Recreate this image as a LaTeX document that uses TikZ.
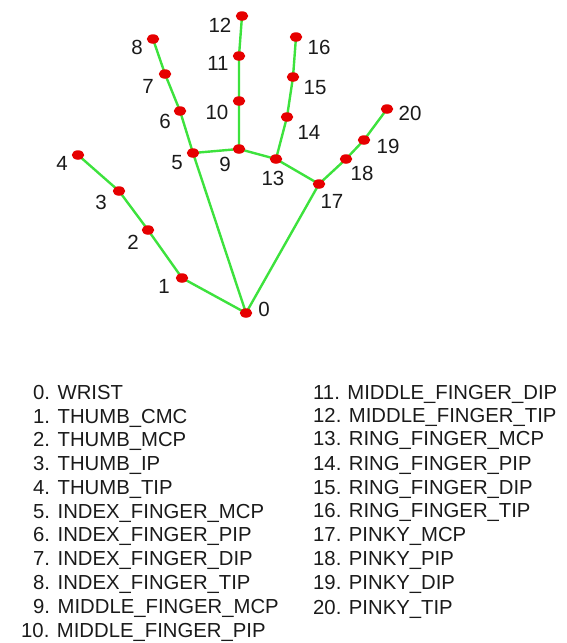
\documentclass[tikz,border=0pt]{standalone}
\usepackage{fontspec}
\setmainfont{Liberation Sans}
\usetikzlibrary{shapes.geometric}
\definecolor{dotred}{HTML}{E60000}
\definecolor{bonegreen}{HTML}{3DE23D}
\definecolor{txt}{HTML}{1A1A1A}
\begin{document}
\begin{tikzpicture}[x=1pt,y=-1pt,
  joint/.style={ellipse,fill=dotred,minimum width=12.5pt,minimum height=9.5pt,inner sep=0pt},
  bone/.style={draw=bonegreen,line width=2.4pt},
  num/.style={text=txt,font=\fontsize{20.5}{22}\selectfont,inner sep=0pt},
  item/.style={text=txt,font=\fontsize{20.3}{22}\selectfont,inner sep=0pt,anchor=base west}]
\useasboundingbox (0,0) rectangle (567,643);
% joints
\coordinate (p0) at (246,313);
\coordinate (p1) at (182,278);
\coordinate (p2) at (148,230);
\coordinate (p3) at (119,191);
\coordinate (p4) at (78,155);
\coordinate (p5) at (193,153);
\coordinate (p6) at (180,111);
\coordinate (p7) at (165,74);
\coordinate (p8) at (153,39);
\coordinate (p9) at (239,149);
\coordinate (p10) at (239,101);
\coordinate (p11) at (239,56);
\coordinate (p12) at (242,16);
\coordinate (p13) at (276,159);
\coordinate (p14) at (287,117);
\coordinate (p15) at (293,77);
\coordinate (p16) at (296,37);
\coordinate (p17) at (319,184);
\coordinate (p18) at (346,159);
\coordinate (p19) at (364,140);
\coordinate (p20) at (387,109);
% bones
\draw[bone] (p0) -- (p1) -- (p2) -- (p3) -- (p4);
\draw[bone] (p0) -- (p5) -- (p6) -- (p7) -- (p8);
\draw[bone] (p5) -- (p9) -- (p10) -- (p11) -- (p12);
\draw[bone] (p9) -- (p13) -- (p14) -- (p15) -- (p16);
\draw[bone] (p13) -- (p17) -- (p18) -- (p19) -- (p20);
\draw[bone] (p0) -- (p17);
% dots
\foreach \i in {0,...,20} \node[joint] (j\i) at (p\i) {};
% labels
\node[num] (l0) at (264,309) {0};
\node[num] (l1) at (164,286) {1};
\node[num] (l2) at (133,242) {2};
\node[num] (l3) at (101,202) {3};
\node[num] (l4) at (62,163) {4};
\node[num] (l5) at (177,163) {5};
\node[num] (l6) at (165,121) {6};
\node[num] (l7) at (148,86) {7};
\node[num] (l8) at (137,47) {8};
\node[num] (l9) at (225,164) {9};
\node[num] (l10) at (217,112) {10};
\node[num] (l11) at (218,63) {11};
\node[num] (l12) at (220,25) {12};
\node[num] (l13) at (273,178) {13};
\node[num] (l14) at (309,132) {14};
\node[num] (l15) at (315,88) {15};
\node[num] (l16) at (319,47) {16};
\node[num] (l17) at (332,201) {17};
\node[num] (l18) at (362,173) {18};
\node[num] (l19) at (388,146) {19};
\node[num] (l20) at (410,113) {20};
% list left
\node[item] (t0) at (33,399) {0. WRIST};
\node[item] (t1) at (33,423) {1. THUMB\_CMC};
\node[item] (t2) at (33,446) {2. THUMB\_MCP};
\node[item] (t3) at (33,470) {3. THUMB\_IP};
\node[item] (t4) at (33,494) {4. THUMB\_TIP};
\node[item] (t5) at (33,518) {5. INDEX\_FINGER\_MCP};
\node[item] (t6) at (33,541) {6. INDEX\_FINGER\_PIP};
\node[item] (t7) at (33,565) {7. INDEX\_FINGER\_DIP};
\node[item] (t8) at (33,589) {8. INDEX\_FINGER\_TIP};
\node[item] (t9) at (33,613) {9. MIDDLE\_FINGER\_MCP};
\node[item] (t10) at (21,637) {10. MIDDLE\_FINGER\_PIP};
% list right
\node[item] (t11) at (313,399) {11. MIDDLE\_FINGER\_DIP};
\node[item] (t12) at (313,422) {12. MIDDLE\_FINGER\_TIP};
\node[item] (t13) at (313,445) {13. RING\_FINGER\_MCP};
\node[item] (t14) at (313,470) {14. RING\_FINGER\_PIP};
\node[item] (t15) at (313,494) {15. RING\_FINGER\_DIP};
\node[item] (t16) at (313,517) {16. RING\_FINGER\_TIP};
\node[item] (t17) at (313,541) {17. PINKY\_MCP};
\node[item] (t18) at (313,565) {18. PINKY\_PIP};
\node[item] (t19) at (313,589) {19. PINKY\_DIP};
\node[item] (t20) at (313,614) {20. PINKY\_TIP};
\end{tikzpicture}
\end{document}
